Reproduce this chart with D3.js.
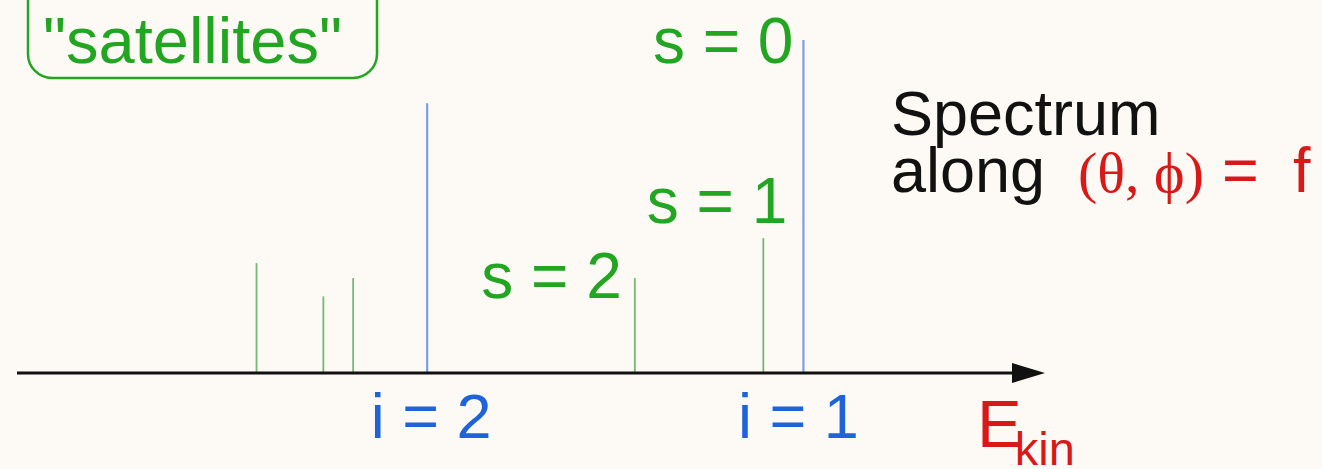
<!DOCTYPE html>
<html>
<head>
<meta charset="utf-8">
<script src="https://cdn.jsdelivr.net/npm/d3@7"></script>
<style>
  html, body { margin: 0; padding: 0; background: #fdf9f4; }
  svg { display: block; }
  text { font-family: "Liberation Sans", Arial, Helvetica, sans-serif; }
</style>
</head>
<body>
<script>
// Photoelectron spectrum: main lines (i), shake-up lines (s) and satellites
const peakEnergy    = [23.3, 29.8, 32.7, 39.9, 60.1, 72.6, 76.5];   // kinetic energy, arbitrary units
const peakIntensity = [0.33, 0.23, 0.285, 0.81, 0.285, 0.405, 1.0]; // relative to s = 0
const peakKind      = ["satellite", "satellite", "satellite", "main", "shake", "shake", "main"];

// labels attached to peaks (index into the peak arrays)
const shakeLabels = ["s = 2", "s = 1", "s = 0"];
const shakePeak   = [4, 5, 6];
const mainLabels  = ["i = 2", "i = 1"];
const mainPeak    = [3, 6];

const W = 1322, H = 469;
const green = "#22a622", greenLine = "#74b874";
const blue = "#1f63d8", blueLine = "#7a9fe0";
const red = "#d91818";

const svg = d3.select("body").append("svg").attr("width", W).attr("height", H);

const x = d3.scaleLinear().domain([0, 100]).range([17, 1045]);
const y = d3.scaleLinear().domain([0, 1]).range([373, 40]);

// spectral lines
svg.append("g").selectAll("line")
  .data(peakEnergy.map((e, i) => ({e, v: peakIntensity[i], k: peakKind[i]})))
  .join("line")
  .attr("x1", d => x(d.e)).attr("x2", d => x(d.e))
  .attr("y1", y(0)).attr("y2", d => y(d.v))
  .attr("stroke", d => d.k === "main" ? blueLine : greenLine)
  .attr("stroke-width", d => d.k === "main" ? 2.2 : 1.8);

// energy axis with arrow head
const axisEnd = x(100);
svg.append("line")
  .attr("x1", x(0)).attr("x2", axisEnd - 28)
  .attr("y1", y(0)).attr("y2", y(0))
  .attr("stroke", "#111").attr("stroke-width", 3.2);
svg.append("path")
  .attr("d", `M${axisEnd - 33},${y(0) - 10} L${axisEnd},${y(0)} L${axisEnd - 33},${y(0) + 10} Z`)
  .attr("fill", "#111");

// shake-up labels
const shakeOffsets = [[-13, 20, "end"], [24, -15, "end"], [-10, 23, "end"]];
svg.append("g").selectAll("text")
  .data(shakeLabels)
  .join("text")
  .attr("x", (d, i) => x(peakEnergy[shakePeak[i]]) + shakeOffsets[i][0])
  .attr("y", (d, i) => y(peakIntensity[shakePeak[i]]) + shakeOffsets[i][1])
  .attr("text-anchor", (d, i) => shakeOffsets[i][2])
  .attr("font-size", 64)
  .attr("fill", green)
  .text(d => d);

// main line labels under the axis
svg.append("g").selectAll("text")
  .data(mainLabels)
  .join("text")
  .attr("x", (d, i) => x(peakEnergy[mainPeak[i]]) + (i === 0 ? 4 : -5))
  .attr("y", 438)
  .attr("text-anchor", "middle")
  .attr("font-size", 63)
  .attr("fill", blue)
  .text(d => d);

// axis title E_kin
const ek = svg.append("text").attr("x", 977).attr("y", 447).attr("fill", red).attr("font-size", 67);
ek.append("tspan").text("E");
ek.append("tspan").attr("font-size", 47).attr("dy", 18).attr("dx", -7).text("kin");

// "satellites" tag
svg.append("rect")
  .attr("x", 28).attr("y", -40).attr("width", 349).attr("height", 118)
  .attr("rx", 24).attr("ry", 24)
  .attr("fill", "none").attr("stroke", green).attr("stroke-width", 2.5);
svg.append("text")
  .attr("x", 43).attr("y", 63)
  .attr("font-size", 65)
  .attr("fill", green)
  .text("\"satellites\"");

// caption
svg.append("text").attr("x", 891).attr("y", 135).attr("font-size", 63).attr("fill", "#111").text("Spectrum");
const cap = svg.append("text").attr("y", 192).attr("font-size", 63).attr("fill", "#111");
cap.append("tspan").attr("x", 891).text("along");
cap.append("tspan").attr("x", 1078).attr("fill", red).attr("font-size", 58)
  .attr("font-family", "'Liberation Serif', 'Times New Roman', serif").text("(θ, ϕ)");
cap.append("tspan").attr("x", 1222).attr("fill", red).text("=");
cap.append("tspan").attr("x", 1293).attr("fill", red).text("f");
</script>
</body>
</html>
